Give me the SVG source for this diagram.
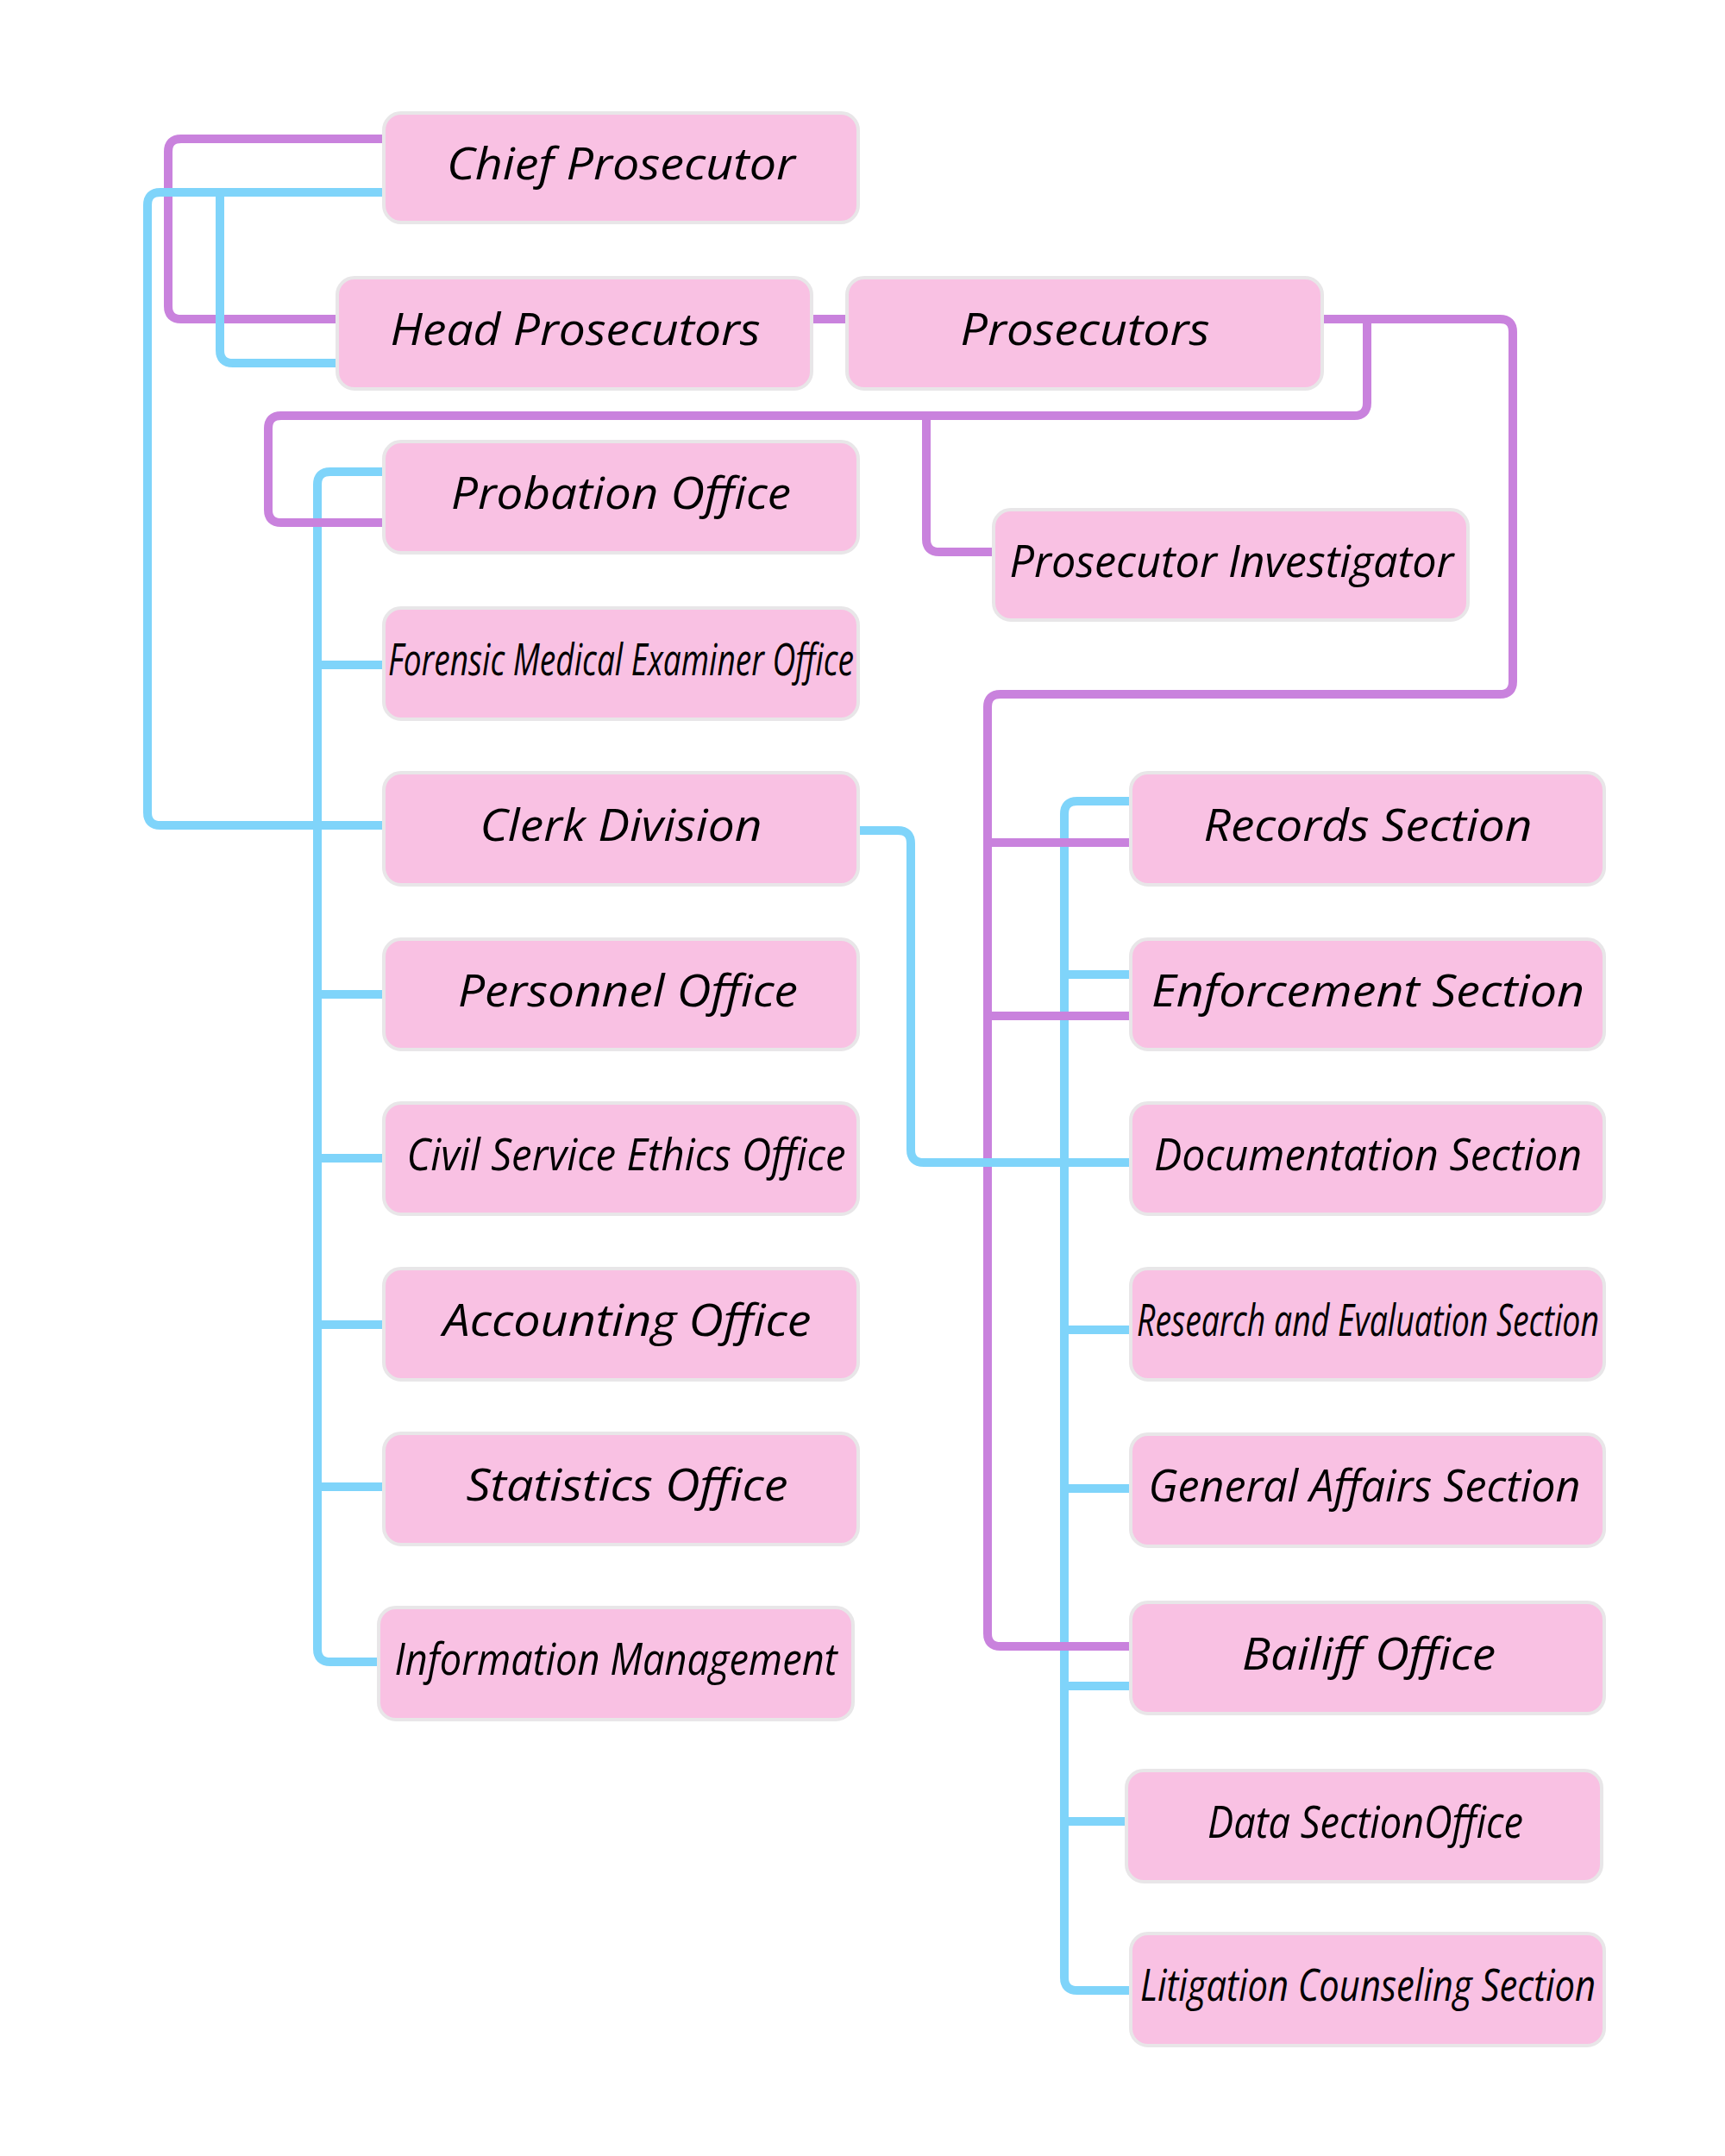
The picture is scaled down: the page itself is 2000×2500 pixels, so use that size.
<svg xmlns="http://www.w3.org/2000/svg" width="2000" height="2500" viewBox="0 0 2000 2500">
<style>
.box{fill:#F9C1E3;stroke:#E8E6E8;stroke-width:4}
.lbl{font-family:"Open Sans","Noto Sans","DejaVu Sans",sans-serif;font-style:italic;font-size:52px;fill:#000;text-anchor:middle}
.p{fill:none;stroke:#C982DD;stroke-width:10}
.b{fill:none;stroke:#7FD4FA;stroke-width:10}
</style>
<rect width="2000" height="2500" fill="#fff"/>
<g id="connectors">
<path class="p" d="M445,161 H210 Q195,161 195,176 V355 Q195,370 210,370 H391"/>
<path class="b" d="M445,223 H186 Q171,223 171,238 V942 Q171,957 186,957 H445"/>
<path class="b" d="M255,223 V406 Q255,421 270,421 H391"/>
<path class="b" d="M445,547 H383 Q368,547 368,562 V1912 Q368,1927 383,1927 H439"/>
<path class="b" d="M368,771 H445 M368,1153 H445 M368,1343 H445 M368,1536 H445 M368,1724 H445"/>
<path class="b" d="M1311,929 H1249 Q1234,929 1234,944 V2293 Q1234,2308 1249,2308 H1311"/>
<path class="b" d="M1234,1130 H1311 M1234,1542 H1311 M1234,1726 H1311 M1234,1955 H1311 M1234,2112 H1306"/>
<path class="p" d="M941,370 H982"/>
<path class="p" d="M1533,370 H1739 Q1754,370 1754,385 V790 Q1754,805 1739,805 H1160 Q1145,805 1145,820 V1894 Q1145,1909 1160,1909 H1311"/>
<path class="p" d="M1145,977 H1311 M1145,1178 H1311"/>
<path class="p" d="M1585,370 V467 Q1585,482 1570,482 H326 Q311,482 311,497 V591 Q311,606 326,606 H445"/>
<path class="p" d="M1074,482 V625 Q1074,640 1089,640 H1152"/>
<path class="b" d="M995,963 H1041 Q1056,963 1056,978 V1333 Q1056,1348 1071,1348 H1311"/>
</g>
<g id="n-chief"><rect class="box" x="445" y="131" width="550" height="127" rx="20"/><text class="lbl" x="720" y="208" textLength="404" lengthAdjust="spacingAndGlyphs">Chief Prosecutor</text></g>
<g id="n-head"><rect class="box" x="391" y="322" width="550" height="129" rx="20"/><text class="lbl" x="667" y="400" textLength="429" lengthAdjust="spacingAndGlyphs">Head Prosecutors</text></g>
<g id="n-prosecutors"><rect class="box" x="982" y="322" width="551" height="129" rx="20"/><text class="lbl" x="1258" y="400" textLength="289" lengthAdjust="spacingAndGlyphs">Prosecutors</text></g>
<g id="n-probation"><rect class="box" x="445" y="512" width="550" height="129" rx="20"/><text class="lbl" x="720" y="590" textLength="394" lengthAdjust="spacingAndGlyphs">Probation Office</text></g>
<g id="n-investigator"><rect class="box" x="1152" y="591" width="550" height="128" rx="20"/><text class="lbl" x="1428" y="669" textLength="515" lengthAdjust="spacingAndGlyphs">Prosecutor Investigator</text></g>
<g id="n-forensic"><rect class="box" x="445" y="705" width="550" height="129" rx="20"/><text class="lbl" x="720" y="783" textLength="540" lengthAdjust="spacingAndGlyphs">Forensic Medical Examiner Office</text></g>
<g id="n-clerk"><rect class="box" x="445" y="896" width="550" height="130" rx="20"/><text class="lbl" x="720" y="975" textLength="327" lengthAdjust="spacingAndGlyphs">Clerk Division</text></g>
<g id="n-personnel"><rect class="box" x="445" y="1089" width="550" height="128" rx="20"/><text class="lbl" x="728" y="1167" textLength="394" lengthAdjust="spacingAndGlyphs">Personnel Office</text></g>
<g id="n-civil"><rect class="box" x="445" y="1279" width="550" height="129" rx="20"/><text class="lbl" x="726" y="1357" textLength="509" lengthAdjust="spacingAndGlyphs">Civil Service Ethics Office</text></g>
<g id="n-accounting"><rect class="box" x="445" y="1471" width="550" height="129" rx="20"/><text class="lbl" x="727" y="1549" textLength="427" lengthAdjust="spacingAndGlyphs">Accounting Office</text></g>
<g id="n-statistics"><rect class="box" x="445" y="1662" width="550" height="129" rx="20"/><text class="lbl" x="727" y="1740" textLength="373" lengthAdjust="spacingAndGlyphs">Statistics Office</text></g>
<g id="n-info"><rect class="box" x="439" y="1864" width="550" height="130" rx="20"/><text class="lbl" x="714" y="1942" textLength="513" lengthAdjust="spacingAndGlyphs">Information Management</text></g>
<g id="n-records"><rect class="box" x="1311" y="896" width="549" height="130" rx="20"/><text class="lbl" x="1586" y="975" textLength="381" lengthAdjust="spacingAndGlyphs">Records Section</text></g>
<g id="n-enforcement"><rect class="box" x="1311" y="1089" width="549" height="128" rx="20"/><text class="lbl" x="1586" y="1167" textLength="502" lengthAdjust="spacingAndGlyphs">Enforcement Section</text></g>
<g id="n-documentation"><rect class="box" x="1311" y="1279" width="549" height="129" rx="20"/><text class="lbl" x="1586" y="1357" textLength="496" lengthAdjust="spacingAndGlyphs">Documentation Section</text></g>
<g id="n-research"><rect class="box" x="1311" y="1471" width="549" height="129" rx="20"/><text class="lbl" x="1586" y="1549" textLength="536" lengthAdjust="spacingAndGlyphs">Research and Evaluation Section</text></g>
<g id="n-general"><rect class="box" x="1311" y="1663" width="549" height="130" rx="20"/><text class="lbl" x="1582" y="1741" textLength="501" lengthAdjust="spacingAndGlyphs">General Affairs Section</text></g>
<g id="n-bailiff"><rect class="box" x="1311" y="1858" width="549" height="129" rx="20"/><text class="lbl" x="1587" y="1936" textLength="294" lengthAdjust="spacingAndGlyphs">Bailiff Office</text></g>
<g id="n-data"><rect class="box" x="1306" y="2053" width="551" height="129" rx="20"/><text class="lbl" x="1583" y="2131" textLength="366" lengthAdjust="spacingAndGlyphs">Data SectionOffice</text></g>
<g id="n-litigation"><rect class="box" x="1311" y="2242" width="549" height="130" rx="20"/><text class="lbl" x="1586" y="2320" textLength="528" lengthAdjust="spacingAndGlyphs">Litigation Counseling Section</text></g>
</svg>
